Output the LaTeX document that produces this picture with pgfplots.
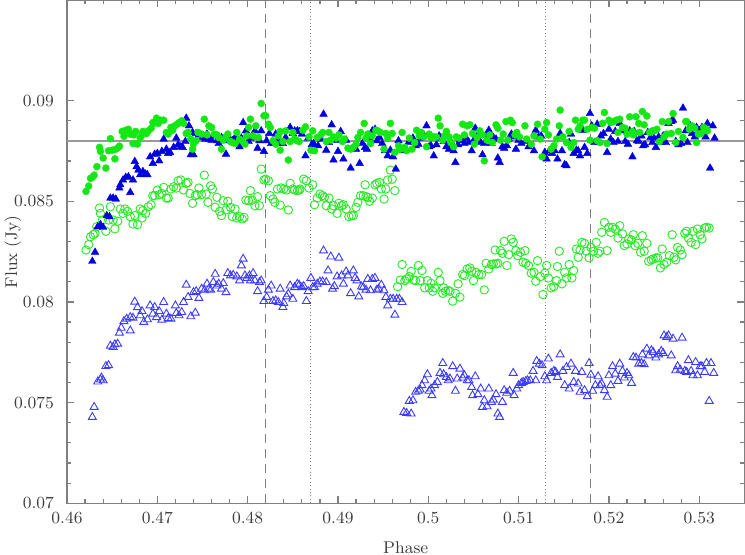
\documentclass[border=0pt]{standalone}
\usepackage{pgfplots}
\pgfplotsset{compat=1.18}

\definecolor{gfill}{RGB}{20,232,20}
\definecolor{gopen}{RGB}{40,232,40}
\definecolor{bfill}{RGB}{0,0,225}
\definecolor{bopen}{RGB}{60,60,255}
\definecolor{frame}{RGB}{128,128,128}
\definecolor{txt}{RGB}{60,60,60}

\begin{document}
\begin{tikzpicture}
\begin{axis}[
    name=ax,
    scale only axis,
    width=338.5pt, height=251.5pt,
    xmin=0.46, xmax=0.535, ymin=0.07, ymax=0.095,
    xtick={0.46,0.47,...,0.531}, ytick={0.07,0.075,...,0.091},
    xticklabels={0.46,0.47,0.48,0.49,0.5,0.51,0.52,0.53},
    yticklabels={0.07,0.075,0.08,0.085,0.09},
    minor x tick num=4, minor y tick num=4,
    tick align=inside, tick pos=both,
    major tick length=3.5pt, minor tick length=2pt,
    axis line style={draw=frame, line width=0.6pt},
    every tick/.style={draw=frame, line width=0.6pt},
    tick label style={font=\fontsize{8.5}{10}\selectfont, text=txt},
    yticklabel style={xshift=-3pt},
    xticklabel style={yshift=-1pt},
    xlabel={Phase}, ylabel={Flux (Jy)},
    label style={font=\fontsize{8.5}{10}\selectfont, text=txt},
    xlabel style={at={(axis description cs:0.5,-0.0875)}, anchor=center},
    ylabel style={at={(axis description cs:-0.0798,0.5)}, anchor=center},
    clip marker paths=true,
]
% reference lines
\addplot[draw=frame!80, line width=0.6pt] coordinates {(0.46,0.088) (0.535,0.088)};
\addplot[draw=frame, line width=0.6pt, dash pattern=on 4.5pt off 3pt] coordinates {(0.482,0.07) (0.482,0.095)};
\addplot[draw=frame, line width=0.6pt, dash pattern=on 4.5pt off 3pt] coordinates {(0.518,0.07) (0.518,0.095)};
\addplot[draw=frame, line width=0.5pt, dash pattern=on 0.5pt off 1.2pt] coordinates {(0.487,0.07) (0.487,0.095)};
\addplot[draw=frame, line width=0.5pt, dash pattern=on 0.5pt off 1.2pt] coordinates {(0.513,0.07) (0.513,0.095)};

% open triangles (blue)
\addplot[only marks, mark=triangle, mark size=2.3pt, mark options={draw=bopen, line width=0.45pt}] coordinates {
(0.4628,0.07428) (0.4630,0.07478) (0.4634,0.07604) (0.4637,0.07614) (0.4640,0.07610) (0.4638,0.07624)
(0.4643,0.07681) (0.4646,0.07685) (0.4648,0.07782) (0.4651,0.07776) (0.4653,0.07789) (0.4656,0.07792)
(0.4658,0.07847) (0.4660,0.07871) (0.4663,0.07904) (0.4666,0.07916) (0.4670,0.07924) (0.4673,0.07921)
(0.4670,0.07858) (0.4675,0.08001) (0.4678,0.07973) (0.4681,0.07933) (0.4683,0.07954) (0.4685,0.07900)
(0.4689,0.07913) (0.4692,0.07982) (0.4695,0.07941) (0.4697,0.07974) (0.4699,0.07924) (0.4702,0.07954)
(0.4705,0.07911) (0.4707,0.07999) (0.4710,0.07941) (0.4712,0.07919) (0.4715,0.07916) (0.4720,0.07982)
(0.4721,0.07944) (0.4724,0.07933) (0.4727,0.07949) (0.4729,0.07999) (0.4732,0.08085) (0.4734,0.08024)
(0.4737,0.07928) (0.4740,0.08048) (0.4742,0.07946) (0.4743,0.08053) (0.4746,0.08019) (0.4749,0.08065)
(0.4752,0.08057) (0.4755,0.08090) (0.4757,0.08065) (0.4759,0.08060) (0.4762,0.08098) (0.4764,0.08139)
(0.4766,0.08081) (0.4768,0.08090) (0.4771,0.08065) (0.4773,0.08093) (0.4776,0.08048) (0.4778,0.08143)
(0.4781,0.08131) (0.4784,0.08134) (0.4788,0.08126) (0.4791,0.08106) (0.4793,0.08181) (0.4795,0.08214)
(0.4797,0.08131) (0.4799,0.08119) (0.4802,0.08131) (0.4803,0.08106) (0.4806,0.08143) (0.4808,0.08106)
(0.4811,0.08053) (0.4813,0.08098) (0.4815,0.08106) (0.4818,0.08004) (0.4821,0.08024) (0.4823,0.08060)
(0.4826,0.08081) (0.4828,0.08004) (0.4831,0.08007) (0.4834,0.07999) (0.4836,0.08065) (0.4839,0.07974)
(0.4840,0.07994) (0.4843,0.08027) (0.4845,0.08040) (0.4847,0.08081) (0.4850,0.08015) (0.4852,0.08073)
(0.4855,0.08090) (0.4857,0.08085) (0.4860,0.08073) (0.4862,0.08078) (0.4865,0.08004) (0.4867,0.08053)
(0.4870,0.08119) (0.4872,0.08073) (0.4874,0.08073) (0.4877,0.08090) (0.4880,0.08101) (0.4883,0.08101)
(0.4884,0.08255) (0.4887,0.08098) (0.4889,0.08156) (0.4892,0.08225) (0.4894,0.08065) (0.4896,0.08078)
(0.4899,0.08126) (0.4901,0.08219) (0.4904,0.08131) (0.4906,0.08090) (0.4909,0.08151) (0.4911,0.08131)
(0.4914,0.08043) (0.4917,0.08156) (0.4919,0.08119) (0.4921,0.08106) (0.4923,0.08027) (0.4926,0.08076)
(0.4928,0.08073) (0.4931,0.08060) (0.4933,0.08114) (0.4936,0.08057) (0.4938,0.08114) (0.4941,0.08119)
(0.4943,0.08060) (0.4945,0.08065) (0.4948,0.08085) (0.4951,0.08057) (0.4953,0.08024) (0.4955,0.07982)
(0.4958,0.08015) (0.4961,0.08015) (0.4963,0.07936) (0.4965,0.08015) (0.4968,0.08015) (0.4971,0.07999)
(0.4973,0.07453) (0.4976,0.07448) (0.4981,0.07445) (0.4979,0.07508) (0.4983,0.07511) (0.4986,0.07553)
(0.4989,0.07558) (0.4991,0.07564) (0.4993,0.07586) (0.4996,0.07610) (0.4999,0.07640) (0.5001,0.07558)
(0.5004,0.07536) (0.5003,0.07569) (0.5007,0.07586) (0.5010,0.07602) (0.5013,0.07647) (0.5016,0.07696)
(0.5017,0.07640) (0.5020,0.07627) (0.5022,0.07610) (0.5024,0.07619) (0.5027,0.07680) (0.5030,0.07558)
(0.5032,0.07619) (0.5035,0.07668) (0.5038,0.07624) (0.5040,0.07635) (0.5043,0.07610) (0.5045,0.07610)
(0.5048,0.07577) (0.5049,0.07536) (0.5052,0.07630) (0.5055,0.07541) (0.5058,0.07569) (0.5060,0.07478)
(0.5062,0.07511) (0.5065,0.07481) (0.5067,0.07569) (0.5070,0.07503) (0.5072,0.07514) (0.5075,0.07541)
(0.5077,0.07445) (0.5079,0.07428) (0.5082,0.07503) (0.5084,0.07561) (0.5087,0.07548) (0.5090,0.07558)
(0.5094,0.07647) (0.5095,0.07536) (0.5098,0.07569) (0.5100,0.07586) (0.5103,0.07597) (0.5105,0.07602)
(0.5108,0.07607) (0.5110,0.07610) (0.5113,0.07610) (0.5116,0.07657) (0.5119,0.07610) (0.5120,0.07706)
(0.5123,0.07693) (0.5126,0.07685) (0.5129,0.07630) (0.5131,0.07610) (0.5133,0.07718) (0.5136,0.07647)
(0.5139,0.07657) (0.5141,0.07652) (0.5143,0.07627) (0.5146,0.07739) (0.5149,0.07657) (0.5151,0.07586)
(0.5153,0.07676) (0.5156,0.07569) (0.5158,0.07693) (0.5161,0.07602) (0.5163,0.07657) (0.5166,0.07594)
(0.5168,0.07553) (0.5170,0.07652) (0.5173,0.07561) (0.5176,0.07531) (0.5178,0.07696) (0.5180,0.07638)
(0.5182,0.07558) (0.5185,0.07586) (0.5188,0.07630) (0.5190,0.07586) (0.5192,0.07594) (0.5195,0.07561)
(0.5198,0.07528) (0.5200,0.07635) (0.5202,0.07586) (0.5204,0.07680) (0.5207,0.07643) (0.5210,0.07607)
(0.5212,0.07693) (0.5215,0.07657) (0.5217,0.07624) (0.5220,0.07647) (0.5222,0.07635) (0.5225,0.07597)
(0.5227,0.07726) (0.5230,0.07723) (0.5233,0.07693) (0.5236,0.07696) (0.5237,0.07739) (0.5239,0.07690)
(0.5242,0.07767) (0.5244,0.07734) (0.5247,0.07759) (0.5249,0.07751) (0.5252,0.07723) (0.5255,0.07739)
(0.5258,0.07756) (0.5260,0.07746) (0.5261,0.07833) (0.5264,0.07825) (0.5266,0.07833) (0.5269,0.07734)
(0.5271,0.07817) (0.5274,0.07660) (0.5276,0.07680) (0.5279,0.07663) (0.5281,0.07822) (0.5284,0.07657)
(0.5286,0.07652) (0.5288,0.07710) (0.5291,0.07657) (0.5293,0.07635) (0.5296,0.07701) (0.5298,0.07635)
(0.5301,0.07680) (0.5303,0.07680) (0.5306,0.07652) (0.5308,0.07696) (0.5311,0.07508) (0.5313,0.07696)
(0.5316,0.07647)
};

% open circles (green)
\addplot[only marks, mark=o, mark size=2.1pt, mark options={draw=gopen, line width=0.45pt}] coordinates {
(0.4621,0.08258) (0.4624,0.08285) (0.4626,0.08324) (0.4629,0.08334) (0.4631,0.08341) (0.4633,0.08374)
(0.4636,0.08467) (0.4637,0.08440) (0.4639,0.08407) (0.4643,0.08351) (0.4646,0.08407) (0.4648,0.08473)
(0.4651,0.08407) (0.4653,0.08363) (0.4656,0.08401) (0.4659,0.08462) (0.4662,0.08440) (0.4664,0.08462)
(0.4667,0.08450) (0.4670,0.08424) (0.4673,0.08387) (0.4675,0.08429) (0.4678,0.08384) (0.4681,0.08462)
(0.4683,0.08417) (0.4684,0.08454) (0.4687,0.08440) (0.4690,0.08473) (0.4693,0.08483) (0.4695,0.08528)
(0.4697,0.08528) (0.4700,0.08556) (0.4702,0.08533) (0.4705,0.08539) (0.4707,0.08569) (0.4710,0.08516)
(0.4712,0.08516) (0.4715,0.08561) (0.4718,0.08572) (0.4721,0.08566) (0.4723,0.08602) (0.4726,0.08606)
(0.4729,0.08556) (0.4732,0.08589) (0.4734,0.08594) (0.4736,0.08539) (0.4739,0.08490) (0.4742,0.08528)
(0.4744,0.08533) (0.4746,0.08566) (0.4749,0.08533) (0.4752,0.08630) (0.4754,0.08536) (0.4756,0.08495)
(0.4759,0.08577) (0.4761,0.08561) (0.4764,0.08470) (0.4766,0.08520) (0.4769,0.08450) (0.4771,0.08429)
(0.4773,0.08503) (0.4776,0.08457) (0.4778,0.08500) (0.4781,0.08470) (0.4783,0.08424) (0.4786,0.08462)
(0.4788,0.08417) (0.4791,0.08424) (0.4794,0.08412) (0.4796,0.08420) (0.4798,0.08506) (0.4801,0.08503)
(0.4803,0.08553) (0.4805,0.08506) (0.4808,0.08478) (0.4811,0.08523) (0.4813,0.08478) (0.4815,0.08660)
(0.4818,0.08606) (0.4820,0.08610) (0.4823,0.08602) (0.4825,0.08528) (0.4828,0.08511) (0.4830,0.08495)
(0.4833,0.08561) (0.4836,0.08481) (0.4837,0.08566) (0.4840,0.08561) (0.4843,0.08556) (0.4845,0.08457)
(0.4847,0.08589) (0.4850,0.08561) (0.4852,0.08556) (0.4855,0.08553) (0.4857,0.08556)
(0.4858,0.08561) (0.4862,0.08610) (0.4865,0.08602) (0.4868,0.08566) (0.4872,0.08582) (0.4874,0.08483)
(0.4877,0.08516) (0.4880,0.08536) (0.4883,0.08528) (0.4885,0.08520) (0.4887,0.08478) (0.4890,0.08516)
(0.4893,0.08462) (0.4895,0.08478) (0.4899,0.08440) (0.4901,0.08490) (0.4904,0.08478) (0.4906,0.08483)
(0.4909,0.08462) (0.4912,0.08424) (0.4915,0.08429) (0.4917,0.08429) (0.4920,0.08470) (0.4922,0.08495)
(0.4925,0.08528) (0.4928,0.08528) (0.4930,0.08582) (0.4931,0.08523) (0.4933,0.08520) (0.4935,0.08500)
(0.4938,0.08516) (0.4941,0.08582) (0.4943,0.08589) (0.4946,0.08594) (0.4948,0.08561) (0.4951,0.08511)
(0.4953,0.08561) (0.4955,0.08606) (0.4958,0.08655) (0.4960,0.08610) (0.4963,0.08553)
(0.4966,0.08076) (0.4969,0.08109) (0.4971,0.08186) (0.4974,0.08106) (0.4976,0.08114) (0.4979,0.08126)
(0.4981,0.08152) (0.4984,0.08109) (0.4986,0.08106) (0.4989,0.08181) (0.4991,0.08106) (0.4993,0.08156)
(0.4996,0.08070) (0.4999,0.08106) (0.5001,0.08070) (0.5003,0.08093) (0.5005,0.08053) (0.5007,0.08070)
(0.5011,0.08147) (0.5013,0.08106) (0.5016,0.08043) (0.5017,0.08070) (0.5019,0.08053) (0.5022,0.08057)
(0.5024,0.08053) (0.5027,0.08004) (0.5030,0.08043) (0.5033,0.08090) (0.5035,0.08024) (0.5038,0.08136)
(0.5040,0.08131) (0.5043,0.08164) (0.5046,0.08169) (0.5048,0.08152) (0.5050,0.08106) (0.5053,0.08147)
(0.5056,0.08136) (0.5059,0.08136) (0.5062,0.08060) (0.5064,0.08192) (0.5067,0.08164) (0.5070,0.08186)
(0.5072,0.08189) (0.5075,0.08189) (0.5077,0.08192) (0.5074,0.08258) (0.5080,0.08255) (0.5082,0.08242)
(0.5084,0.08301) (0.5087,0.08181) (0.5089,0.08235) (0.5092,0.08313) (0.5094,0.08296) (0.5097,0.08255)
(0.5099,0.08230) (0.5102,0.08247) (0.5105,0.08197) (0.5107,0.08255) (0.5108,0.08192) (0.5111,0.08181)
(0.5114,0.08143) (0.5117,0.08147) (0.5119,0.08103) (0.5121,0.08205) (0.5124,0.08126) (0.5127,0.08037)
(0.5129,0.08143) (0.5131,0.08181) (0.5133,0.08119) (0.5136,0.08070) (0.5139,0.08076) (0.5142,0.08106)
(0.5143,0.08176) (0.5145,0.08252) (0.5148,0.08090) (0.5151,0.08147) (0.5153,0.08119) (0.5156,0.08186)
(0.5159,0.08119) (0.5161,0.08156) (0.5164,0.08263) (0.5166,0.08222) (0.5168,0.08258) (0.5170,0.08296)
(0.5173,0.08291) (0.5175,0.08252) (0.5178,0.08219) (0.5180,0.08271) (0.5183,0.08252) (0.5186,0.08296)
(0.5188,0.08242) (0.5190,0.08252) (0.5192,0.08346) (0.5195,0.08395) (0.5198,0.08255) (0.5200,0.08371)
(0.5202,0.08346) (0.5204,0.08371) (0.5207,0.08362) (0.5210,0.08318) (0.5212,0.08379) (0.5215,0.08338)
(0.5217,0.08280) (0.5220,0.08288) (0.5222,0.08313) (0.5225,0.08308) (0.5227,0.08334) (0.5229,0.08280)
(0.5232,0.08291) (0.5235,0.08247) (0.5237,0.08329) (0.5239,0.08252) (0.5242,0.08291) (0.5244,0.08202)
(0.5247,0.08209) (0.5249,0.08214) (0.5252,0.08219) (0.5254,0.08219) (0.5257,0.08169) (0.5259,0.08263)
(0.5261,0.08186) (0.5264,0.08197) (0.5267,0.08230) (0.5270,0.08334) (0.5272,0.08222) (0.5274,0.08209)
(0.5276,0.08271) (0.5279,0.08258) (0.5281,0.08235) (0.5284,0.08341) (0.5286,0.08351) (0.5288,0.08318)
(0.5291,0.08296) (0.5293,0.08351) (0.5296,0.08285) (0.5298,0.08362) (0.5301,0.08334) (0.5303,0.08313)
(0.5306,0.08367) (0.5308,0.08371) (0.5311,0.08367)
};

% filled triangles (blue)
\addplot[only marks, mark=triangle*, mark size=2.2pt, mark options={draw=bfill, fill=bfill, line width=0.2pt}] coordinates {
(0.4628,0.08202) (0.4631,0.08247) (0.4634,0.08374) (0.4637,0.08384) (0.4640,0.08371) (0.4644,0.08429)
(0.4647,0.08424) (0.4648,0.08516) (0.4651,0.08516) (0.4654,0.08511) (0.4658,0.08566) (0.4659,0.08582)
(0.4662,0.08606) (0.4665,0.08619) (0.4670,0.08544) (0.4668,0.08622) (0.4673,0.08606) (0.4675,0.08698)
(0.4677,0.08672) (0.4679,0.08655) (0.4681,0.08632) (0.4684,0.08648) (0.4687,0.08635) (0.4689,0.08632)
(0.4692,0.08721) (0.4695,0.08688) (0.4697,0.08734) (0.4700,0.08738) (0.4702,0.08701) (0.4705,0.08748)
(0.4707,0.08809) (0.4710,0.08759) (0.4712,0.08738) (0.4714,0.08743) (0.4718,0.08768) (0.4721,0.08814)
(0.4723,0.08781) (0.4726,0.08771) (0.4728,0.08768) (0.4731,0.08797) (0.4732,0.08913) (0.4735,0.08875)
(0.4737,0.08731) (0.4739,0.08842) (0.4740,0.08731) (0.4743,0.08837) (0.4746,0.08830) (0.4750,0.08817)
(0.4753,0.08809) (0.4755,0.08834) (0.4757,0.08809) (0.4760,0.08804) (0.4763,0.08825) (0.4766,0.08801)
(0.4768,0.08787) (0.4771,0.08817) (0.4773,0.08804) (0.4776,0.08734) (0.4778,0.08801) (0.4781,0.08804)
(0.4783,0.08801) (0.4786,0.08817) (0.4788,0.08801) (0.4791,0.08771) (0.4793,0.08814) (0.4795,0.08891)
(0.4798,0.08850) (0.4801,0.08797) (0.4803,0.08814) (0.4806,0.08820) (0.4808,0.08850) (0.4811,0.08764)
(0.4813,0.08801) (0.4815,0.08850) (0.4818,0.08748) (0.4821,0.08801) (0.4824,0.08837) (0.4826,0.08787)
(0.4829,0.08787) (0.4831,0.08834) (0.4834,0.08809) (0.4836,0.08787) (0.4839,0.08787) (0.4842,0.08817)
(0.4847,0.08867) (0.4850,0.08837) (0.4852,0.08850) (0.4855,0.08850) (0.4857,0.08847)
(0.4860,0.08834) (0.4864,0.08726) (0.4867,0.08814) (0.4871,0.08781) (0.4873,0.08787) (0.4878,0.08776)
(0.4881,0.08809) (0.4884,0.08933) (0.4887,0.08754) (0.4890,0.08792) (0.4893,0.08880) (0.4895,0.08705)
(0.4898,0.08804) (0.4900,0.08748) (0.4903,0.08847) (0.4906,0.08710) (0.4909,0.08804) (0.4914,0.08665)
(0.4917,0.08764) (0.4920,0.08759) (0.4924,0.08688) (0.4927,0.08787) (0.4930,0.08768) (0.4932,0.08759)
(0.4935,0.08814) (0.4938,0.08850) (0.4941,0.08858) (0.4943,0.08801) (0.4946,0.08817) (0.4949,0.08787)
(0.4952,0.08751) (0.4955,0.08726) (0.4958,0.08754) (0.4961,0.08721) (0.4964,0.08660) (0.4967,0.08801)
(0.4969,0.08764) (0.4972,0.08751) (0.4975,0.08754) (0.4978,0.08792) (0.4980,0.08804) (0.4983,0.08814)
(0.4986,0.08776) (0.4989,0.08784) (0.4991,0.08814) (0.4995,0.08830) (0.4998,0.08875) (0.5001,0.08771)
(0.5003,0.08776) (0.5006,0.08726) (0.5009,0.08781) (0.5012,0.08825) (0.5014,0.08814) (0.5017,0.08797)
(0.5020,0.08771) (0.5023,0.08759) (0.5025,0.08797) (0.5028,0.08751) (0.5030,0.08693) (0.5033,0.08781)
(0.5035,0.08804) (0.5038,0.08804) (0.5040,0.08787) (0.5042,0.08814) (0.5045,0.08792) (0.5048,0.08751)
(0.5050,0.08801) (0.5052,0.08863) (0.5055,0.08830) (0.5058,0.08792) (0.5060,0.08731) (0.5062,0.08787)
(0.5065,0.08830) (0.5067,0.08853) (0.5070,0.08787) (0.5072,0.08817) (0.5075,0.08809) (0.5077,0.08715)
(0.5079,0.08693) (0.5082,0.08771) (0.5084,0.08764) (0.5087,0.08776) (0.5089,0.08809) (0.5092,0.08834)
(0.5094,0.08820) (0.5097,0.08759) (0.5100,0.08804)
(0.5103,0.08787) (0.5108,0.08797) (0.5111,0.08771) (0.5117,0.08751) (0.5119,0.08853) (0.5122,0.08820)
(0.5125,0.08825) (0.5129,0.08743) (0.5131,0.08710) (0.5134,0.08751) (0.5137,0.08738) (0.5140,0.08751)
(0.5143,0.08710) (0.5146,0.08837) (0.5148,0.08751) (0.5151,0.08682) (0.5153,0.08677) (0.5156,0.08792)
(0.5158,0.08834) (0.5161,0.08738) (0.5164,0.08754) (0.5166,0.08751) (0.5168,0.08726) (0.5171,0.08853)
(0.5173,0.08768) (0.5176,0.08738) (0.5179,0.08936) (0.5181,0.08875) (0.5184,0.08792) (0.5187,0.08883)
(0.5189,0.08792) (0.5191,0.08825) (0.5194,0.08837) (0.5198,0.08743) (0.5200,0.08858) (0.5202,0.08809)
(0.5205,0.08792) (0.5207,0.08847) (0.5210,0.08797) (0.5212,0.08887) (0.5215,0.08850) (0.5218,0.08797)
(0.5221,0.08784) (0.5223,0.08850) (0.5226,0.08721) (0.5228,0.08847) (0.5231,0.08801) (0.5233,0.08797)
(0.5236,0.08825) (0.5238,0.08776) (0.5240,0.08781) (0.5243,0.08842) (0.5246,0.08817) (0.5248,0.08792)
(0.5250,0.08814) (0.5252,0.08768) (0.5255,0.08820) (0.5258,0.08792) (0.5260,0.08825) (0.5263,0.08792)
(0.5266,0.08887) (0.5269,0.08896) (0.5271,0.08903) (0.5274,0.08797) (0.5277,0.08781) (0.5280,0.08787)
(0.5282,0.08963) (0.5285,0.08850) (0.5287,0.08792) (0.5290,0.08875) (0.5292,0.08837) (0.5295,0.08820)
(0.5297,0.08867) (0.5300,0.08850) (0.5303,0.08867) (0.5307,0.08820) (0.5309,0.08887) (0.5312,0.08665)
(0.5315,0.08875) (0.5317,0.08814)
};

% filled circles (green)
\addplot[only marks, mark=*, mark size=1.75pt, mark options={draw=gfill, fill=gfill, line width=0.2pt}] coordinates {
(0.4621,0.08549) (0.4624,0.08576) (0.4626,0.08614) (0.4628,0.08619) (0.4630,0.08630) (0.4633,0.08672)
(0.4636,0.08768) (0.4637,0.08748) (0.4640,0.08715) (0.4643,0.08665) (0.4646,0.08751) (0.4648,0.08811)
(0.4650,0.08754) (0.4653,0.08711) (0.4654,0.08759) (0.4657,0.08768) (0.4658,0.08774) (0.4661,0.08847)
(0.4663,0.08822) (0.4665,0.08853) (0.4668,0.08858) (0.4670,0.08834) (0.4673,0.08787) (0.4674,0.08830)
(0.4676,0.08847) (0.4678,0.08784) (0.4681,0.08814) (0.4683,0.08830) (0.4684,0.08847) (0.4688,0.08837)
(0.4690,0.08850) (0.4693,0.08862) (0.4695,0.08891) (0.4696,0.08887) (0.4699,0.08913) (0.4701,0.08887)
(0.4704,0.08903) (0.4707,0.08903) (0.4710,0.08842) (0.4712,0.08834) (0.4715,0.08867) (0.4717,0.08853)
(0.4719,0.08875) (0.4722,0.08883) (0.4724,0.08891) (0.4727,0.08900) (0.4729,0.08887) (0.4732,0.08837)
(0.4734,0.08842) (0.4737,0.08809) (0.4739,0.08759) (0.4740,0.08784) (0.4743,0.08801) (0.4745,0.08842)
(0.4749,0.08834) (0.4752,0.08908) (0.4755,0.08830) (0.4757,0.08875) (0.4760,0.08867) (0.4763,0.08834)
(0.4766,0.08830) (0.4768,0.08817) (0.4771,0.08759) (0.4773,0.08804) (0.4776,0.08820) (0.4778,0.08834)
(0.4781,0.08797) (0.4783,0.08792) (0.4786,0.08787) (0.4788,0.08842) (0.4791,0.08809) (0.4794,0.08801)
(0.4797,0.08784) (0.4799,0.08825) (0.4801,0.08867) (0.4803,0.08908) (0.4806,0.08825) (0.4809,0.08875)
(0.4812,0.08817) (0.4815,0.08986) (0.4818,0.08925) (0.4820,0.08925) (0.4823,0.08883) (0.4825,0.08867)
(0.4828,0.08801) (0.4831,0.08784) (0.4834,0.08825) (0.4836,0.08847) (0.4836,0.08754) (0.4839,0.08797)
(0.4842,0.08850) (0.4845,0.08705) (0.4847,0.08797) (0.4850,0.08842) (0.4852,0.08809) (0.4855,0.08801)
(0.4857,0.08797)
(0.4861,0.08853) (0.4864,0.08870) (0.4868,0.08820) (0.4872,0.08850) (0.4870,0.08754) (0.4874,0.08751)
(0.4877,0.08817) (0.4881,0.08830) (0.4883,0.08842) (0.4887,0.08797) (0.4890,0.08842) (0.4892,0.08804)
(0.4895,0.08820) (0.4898,0.08814) (0.4901,0.08830) (0.4905,0.08797) (0.4907,0.08809) (0.4911,0.08764)
(0.4914,0.08759) (0.4917,0.08768) (0.4920,0.08784) (0.4922,0.08817) (0.4925,0.08842) (0.4929,0.08887)
(0.4931,0.08814) (0.4933,0.08834) (0.4936,0.08787) (0.4938,0.08825) (0.4942,0.08853) (0.4944,0.08850)
(0.4947,0.08842) (0.4951,0.08759) (0.4953,0.08837) (0.4955,0.08814) (0.4958,0.08887) (0.4960,0.08837)
(0.4963,0.08743) (0.4967,0.08776) (0.4969,0.08759) (0.4971,0.08842) (0.4974,0.08768) (0.4976,0.08751)
(0.4979,0.08814) (0.4982,0.08759) (0.4985,0.08792) (0.4987,0.08853) (0.4990,0.08825) (0.4992,0.08842)
(0.4995,0.08820) (0.4998,0.08771) (0.5001,0.08834) (0.5003,0.08817) (0.5006,0.08820) (0.5009,0.08820)
(0.5011,0.08913) (0.5013,0.08875) (0.5016,0.08804) (0.5018,0.08825) (0.5020,0.08847) (0.5023,0.08820)
(0.5025,0.08792) (0.5028,0.08771) (0.5031,0.08820) (0.5034,0.08814) (0.5038,0.08883) (0.5040,0.08830)
(0.5043,0.08875) (0.5046,0.08880) (0.5049,0.08837) (0.5051,0.08784) (0.5054,0.08817) (0.5057,0.08850)
(0.5060,0.08830) (0.5062,0.08701) (0.5065,0.08804) (0.5068,0.08830) (0.5071,0.08792) (0.5075,0.08880)
(0.5077,0.08863) (0.5080,0.08804) (0.5083,0.08834) (0.5086,0.08896) (0.5088,0.08804) (0.5091,0.08903)
(0.5093,0.08891) (0.5096,0.08830) (0.5098,0.08842) (0.5101,0.08820)
(0.5107,0.08875) (0.5109,0.08809) (0.5114,0.08784) (0.5117,0.08825) (0.5121,0.08883) (0.5124,0.08809)
(0.5126,0.08721) (0.5129,0.08858) (0.5131,0.08891) (0.5133,0.08830) (0.5136,0.08759) (0.5139,0.08776)
(0.5142,0.08809) (0.5145,0.08875) (0.5146,0.08953) (0.5149,0.08820) (0.5153,0.08792) (0.5156,0.08847)
(0.5158,0.08768) (0.5161,0.08792) (0.5163,0.08903) (0.5166,0.08858) (0.5168,0.08875) (0.5171,0.08903)
(0.5173,0.08903) (0.5176,0.08858) (0.5179,0.08804) (0.5181,0.08867) (0.5184,0.08863) (0.5187,0.08801)
(0.5190,0.08792) (0.5193,0.08887) (0.5195,0.08941) (0.5198,0.08787) (0.5200,0.08903) (0.5202,0.08891)
(0.5205,0.08896) (0.5208,0.08903) (0.5210,0.08842) (0.5212,0.08908) (0.5215,0.08867) (0.5218,0.08863)
(0.5220,0.08834) (0.5223,0.08920) (0.5226,0.08847) (0.5227,0.08830) (0.5230,0.08920) (0.5233,0.08887)
(0.5234,0.08842) (0.5237,0.08946) (0.5239,0.08880) (0.5242,0.08924) (0.5245,0.08842) (0.5248,0.08850)
(0.5250,0.08850) (0.5253,0.08858) (0.5256,0.08797) (0.5259,0.08896) (0.5261,0.08820) (0.5264,0.08834)
(0.5266,0.08896) (0.5269,0.08837) (0.5271,0.08936) (0.5274,0.08792) (0.5277,0.08847) (0.5282,0.08817)
(0.5285,0.08896) (0.5286,0.08896) (0.5289,0.08858) (0.5292,0.08875) (0.5295,0.08863) (0.5297,0.08792)
(0.5299,0.08834) (0.5302,0.08837) (0.5305,0.08867) (0.5308,0.08858) (0.5309,0.08850)
};
\end{axis}
\pgfresetboundingbox
\path ([xshift=-33.5pt,yshift=-25.5pt]ax.south west) rectangle ([xshift=0.3pt]ax.north east);
\end{tikzpicture}
\end{document}
